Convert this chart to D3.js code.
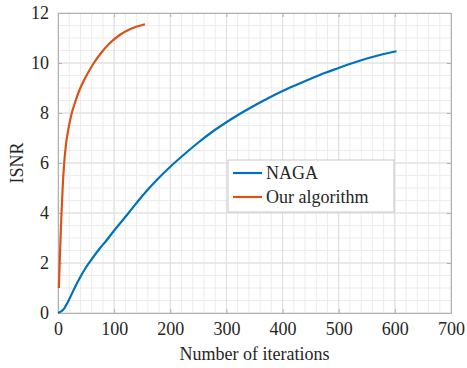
<!DOCTYPE html>
<html>
<head>
<meta charset="utf-8">
<script src="https://cdn.jsdelivr.net/npm/d3@7"></script>
<style>
  html, body { margin: 0; padding: 0; background: #fff; }
  svg { display: block; }
</style>
</head>
<body>
<svg id="chart" width="467" height="368"></svg>
<script>
// ISNR versus iteration count for the two methods
const nagaIter = [0, 10, 20, 30, 40, 50, 60, 75, 87, 100, 125, 150, 175, 200, 225, 250, 275, 300, 325, 350, 375, 400, 425, 450, 475, 500, 525, 550, 575, 603];
const nagaIsnr = [0, 0.15, 0.55, 1.02, 1.45, 1.83, 2.15, 2.6, 2.92, 3.3, 3.98, 4.68, 5.3, 5.85, 6.35, 6.82, 7.25, 7.63, 7.98, 8.3, 8.6, 8.88, 9.13, 9.37, 9.6, 9.8, 10.0, 10.18, 10.33, 10.47];
const oursIter = [1.5, 2.5, 3.6, 5, 6.5, 8.5, 10.7, 14, 18.4, 24, 30, 37, 45, 54, 63, 76, 91.5, 110, 130, 155];
const oursIsnr = [1.0, 1.7, 2.4, 3.3, 4.1, 5.1, 5.9, 6.7, 7.35, 7.95, 8.4, 8.85, 9.25, 9.63, 9.97, 10.38, 10.78, 11.12, 11.37, 11.55];

const xTicks = [0, 100, 200, 300, 400, 500, 600, 700];
const yTicks = [0, 2, 4, 6, 8, 10, 12];
const seriesNames = ["NAGA", "Our algorithm"];
const seriesColors = ["#0072BD", "#D95319"];

const FONT = "'Liberation Serif', 'Times New Roman', serif";
const svg = d3.select("#chart");
const m = { left: 58, right: 16, top: 13, bottom: 55 };
const W = 467, H = 368;

const x = d3.scaleLinear().domain([0, 700]).range([m.left, W - m.right]);
const y = d3.scaleLinear().domain([0, 12]).range([H - m.bottom, m.top]);

const g = svg.append("g");

// minor grid
g.append("g").selectAll("line").data(d3.range(0, 701, 20)).join("line")
  .attr("x1", d => x(d)).attr("x2", d => x(d))
  .attr("y1", y(0)).attr("y2", y(12))
  .attr("stroke", "#ececec").attr("stroke-width", 1);
g.append("g").selectAll("line").data(d3.range(0, 12.01, 0.5)).join("line")
  .attr("y1", d => y(d)).attr("y2", d => y(d))
  .attr("x1", x(0)).attr("x2", x(700))
  .attr("stroke", "#ececec").attr("stroke-width", 1);

// major grid
g.append("g").selectAll("line").data(xTicks).join("line")
  .attr("x1", d => x(d)).attr("x2", d => x(d))
  .attr("y1", y(0)).attr("y2", y(12))
  .attr("stroke", "#dedede").attr("stroke-width", 1);
g.append("g").selectAll("line").data(yTicks).join("line")
  .attr("y1", d => y(d)).attr("y2", d => y(d))
  .attr("x1", x(0)).attr("x2", x(700))
  .attr("stroke", "#dedede").attr("stroke-width", 1);

// axes with inward ticks
const xAxis = d3.axisBottom(x).tickValues(xTicks).tickSizeInner(-4).tickSizeOuter(0).tickPadding(9);
const yAxis = d3.axisLeft(y).tickValues(yTicks).tickSizeInner(-4).tickSizeOuter(0).tickPadding(9);
const xTop = d3.axisTop(x).tickValues(xTicks).tickSizeInner(-4).tickSizeOuter(0).tickFormat("");
const yRight = d3.axisRight(y).tickValues(yTicks).tickSizeInner(-4).tickSizeOuter(0).tickFormat("");

function styleAxis(sel) {
  sel.attr("font-family", null).attr("font-size", null);
  sel.selectAll(".domain").attr("stroke", "#b0b0b0");
  sel.selectAll(".tick line").attr("stroke", "#b0b0b0");
  sel.selectAll("text").style("font-family", FONT).style("font-size", "18px").attr("fill", "#262626");
}
g.append("g").attr("transform", `translate(0,${y(0)})`).call(xAxis).call(styleAxis);
g.append("g").attr("transform", `translate(${x(0)},0)`).call(yAxis).call(styleAxis);
g.append("g").attr("transform", `translate(0,${y(12)})`).call(xTop).call(styleAxis);
g.append("g").attr("transform", `translate(${x(700)},0)`).call(yRight).call(styleAxis);

// curves
const line = d3.line().x(d => x(d[0])).y(d => y(d[1])).curve(d3.curveMonotoneX);
const nagaData = nagaIter.map((v, i) => [v, nagaIsnr[i]]);
const oursData = oursIter.map((v, i) => [v, oursIsnr[i]]);
g.append("path").datum(nagaData).attr("d", line)
  .attr("fill", "none").attr("stroke", seriesColors[0]).attr("stroke-width", 2.2);
g.append("path").datum(oursData).attr("d", line)
  .attr("fill", "none").attr("stroke", seriesColors[1]).attr("stroke-width", 2.2);

// axis titles
svg.append("text").attr("x", (x(0) + x(700)) / 2).attr("y", 360)
  .attr("text-anchor", "middle").style("font-family", FONT).style("font-size", "18px")
  .attr("fill", "#262626").text("Number of iterations");
svg.append("text").attr("transform", `translate(23,${(y(0) + y(12)) / 2}) rotate(-90)`)
  .attr("text-anchor", "middle").style("font-family", FONT).style("font-size", "18px")
  .attr("fill", "#262626").text("ISNR");

// legend
const lg = svg.append("g").attr("transform", "translate(228,160)");
lg.append("rect").attr("width", 166).attr("height", 52)
  .attr("fill", "#fff").attr("stroke", "#c8c8c8").attr("stroke-width", 1);
seriesNames.forEach((name, i) => {
  const yy = 13 + i * 24;
  lg.append("line").attr("x1", 5).attr("x2", 34).attr("y1", yy).attr("y2", yy)
    .attr("stroke", seriesColors[i]).attr("stroke-width", 2.2);
  lg.append("text").attr("x", 38).attr("y", yy + 6)
    .style("font-family", FONT).style("font-size", "18px").attr("fill", "#262626").text(name);
});
</script>
</body>
</html>
